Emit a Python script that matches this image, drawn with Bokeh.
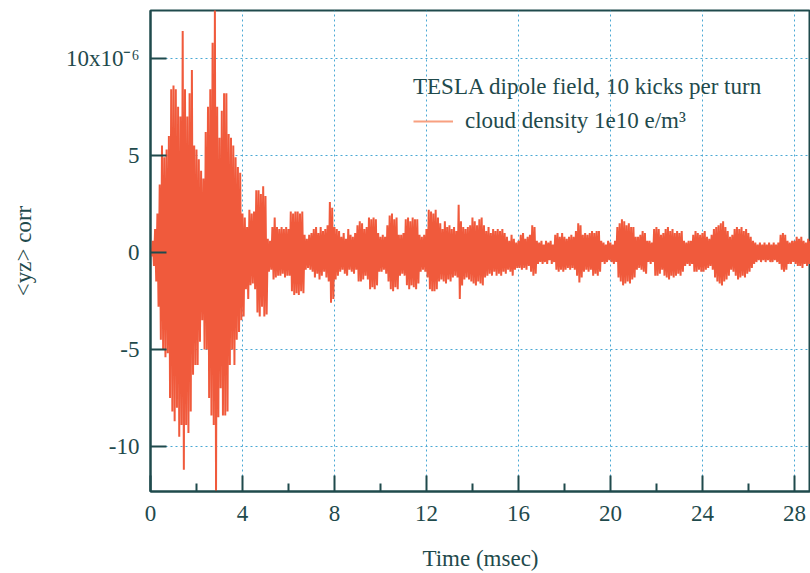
import numpy as np
from bokeh.plotting import figure
from bokeh.models import FixedTicker, Legend, LegendItem, Range1d
from bokeh.embed import file_html
from bokeh.resources import INLINE

# Envelope of the <yz> correlation trace (units of 1e-6), one peak/trough pair per 0.1 msec
T_STEP = 0.1
UP = [
    0.2, 0.6, 1.2, 2.0, 3.5, 5.5, 4.9, 5.3, 6.0, 8.4,
    8.6, 8.4, 7.5, 7.0, 11.4, 8.4, 7.0, 8.2, 9.4, 5.5,
    5.3, 4.8, 4.2, 3.8, 6.2, 7.5, 8.4, 10.8, 12.5, 7.5,
    5.9, 7.3, 8.2, 8.2, 6.1, 5.9, 5.5, 4.9, 4.4, 4.1,
    2.0, 1.8, 1.3, 2.2, 2.0, 2.1, 3.2, 3.2, 3.0, 3.4,
    2.9, 0.7, 0.6, 1.3, 1.8, 1.3, 1.2, 1.3, 1.2, 1.3,
    1.2, 2.1, 2.0, 2.1, 2.1, 2.0, 2.1, 0.9, 0.7, 0.9,
    1.0, 1.2, 1.3, 1.0, 1.3, 1.1, 1.2, 1.4, 2.6, 2.3,
    1.3, 1.2, 1.1, 0.8, 1.0, 0.7, 1.2, 0.9, 0.8, 1.0,
    1.4, 1.6, 1.5, 1.2, 1.3, 1.8, 1.7, 1.8, 1.7, 1.0,
    0.8, 0.9, 0.8, 1.4, 1.9, 2.0, 1.7, 1.8, 0.9, 0.9,
    1.0, 1.7, 1.8, 1.6, 1.8, 1.7, 1.7, 0.9, 0.8, 0.9,
    1.2, 2.2, 2.1, 2.0, 2.2, 1.8, 1.5, 1.2, 1.6, 1.3,
    1.4, 1.2, 1.3, 1.1, 2.45, 1.6, 1.3, 1.2, 1.3, 1.4,
    1.8, 1.6, 1.4, 1.7, 1.8, 1.4, 1.1, 1.3, 1.0, 1.2,
    1.1, 1.2, 1.1, 1.2, 1.0, 0.8, 0.6, 0.9, 0.7, 0.5,
    0.6, 0.9, 1.0, 0.7, 0.8, 0.9, 1.4, 1.3, 0.6, 0.5,
    0.6, 0.4, 0.6, 0.5, 0.6, 0.4, 0.9, 1.0, 0.8, 1.0,
    0.8, 0.7, 0.8, 0.9, 0.8, 1.1, 1.5, 1.4, 0.9, 1.0,
    0.9, 1.0, 1.1, 1.0, 1.1, 1.1, 0.6, 0.5, 0.4, 0.6,
    0.5, 0.4, 0.6, 1.3, 1.5, 1.7, 1.6, 1.4, 1.5, 1.3,
    1.3, 0.8, 0.8, 0.9, 1.1, 1.0, 0.6, 0.6, 0.5, 1.2,
    1.3, 1.2, 0.9, 1.0, 1.2, 1.3, 1.1, 1.2, 1.0, 1.1,
    1.0, 1.1, 0.6, 0.5, 0.6, 0.6, 0.9, 1.1, 1.0, 0.9,
    1.0, 1.1, 0.8, 0.7, 0.9, 1.2, 1.3, 1.4, 1.5, 1.6,
    1.3, 1.1, 0.8, 0.9, 1.2, 1.3, 1.2, 1.3, 1.1, 1.2,
    1.0, 0.8, 0.6, 0.5, 0.4, 0.5, 0.4, 0.5, 0.4, 0.5,
    0.4, 0.5, 0.4, 0.5, 0.9, 1.0, 0.9, 0.6, 0.5, 0.6,
    0.6, 0.8, 0.7, 0.8, 0.6, 0.5, 0.7, 0.6,
]
LO = [
    -0.2, -0.7, -1.5, -2.8, -4.5, -5.0, -5.4, -5.2, -7.5, -8.2,
    -8.7, -8.0, -9.5, -8.9, -11.2, -8.9, -9.3, -8.2, -6.3, -5.8,
    -5.8, -4.6, -3.5, -5.0, -5.0, -7.5, -8.4, -8.9, -12.3, -8.5,
    -7.0, -8.4, -8.4, -8.2, -5.8, -5.0, -5.8, -4.5, -4.1, -3.5,
    -3.3, -1.9, -2.4, -1.7, -1.6, -1.9, -3.1, -3.3, -2.8, -3.3,
    -3.2, -1.0, -0.9, -1.4, -1.3, -1.2, -1.2, -1.1, -1.3, -1.2,
    -1.2, -2.0, -2.2, -2.1, -2.2, -2.0, -2.1, -0.9, -0.8, -0.9,
    -1.0, -1.3, -1.1, -1.4, -1.2, -1.0, -1.3, -1.5, -2.6, -2.4,
    -1.4, -1.2, -1.0, -0.9, -1.1, -1.2, -0.9, -1.0, -1.1, -0.9,
    -1.5, -1.5, -1.4, -1.2, -1.4, -1.9, -1.8, -1.9, -1.7, -1.0,
    -1.0, -0.9, -1.1, -1.5, -1.9, -2.0, -1.8, -1.9, -1.2, -1.1,
    -1.2, -1.7, -1.9, -1.7, -1.8, -1.9, -1.6, -1.0, -0.9, -1.0,
    -1.3, -1.9, -2.0, -2.0, -1.9, -1.5, -1.4, -1.5, -1.6, -1.4,
    -1.5, -1.3, -1.2, -1.3, -2.4, -1.7, -1.4, -1.3, -1.4, -1.5,
    -1.6, -1.7, -1.5, -1.6, -1.7, -1.3, -1.2, -1.1, -1.2, -1.0,
    -1.2, -1.1, -1.2, -1.0, -1.1, -0.9, -1.0, -1.2, -0.9, -0.8,
    -0.8, -0.9, -0.8, -0.9, -0.7, -1.0, -1.2, -1.1, -0.6, -0.5,
    -0.6, -0.5, -0.6, -0.4, -0.6, -0.5, -0.9, -1.0, -0.9, -1.0,
    -0.9, -0.8, -0.9, -0.8, -0.9, -1.2, -1.55, -1.3, -1.0, -0.9,
    -1.0, -0.9, -1.2, -1.1, -1.2, -1.0, -0.5, -0.6, -0.5, -0.4,
    -0.5, -0.6, -0.5, -1.3, -1.5, -1.7, -1.6, -1.5, -1.6, -1.4,
    -1.3, -0.9, -0.8, -0.9, -1.0, -1.1, -0.5, -0.6, -0.5, -1.2,
    -1.2, -1.1, -0.9, -1.2, -1.3, -1.4, -1.2, -1.3, -1.2, -1.1,
    -1.2, -1.0, -0.7, -0.6, -0.7, -0.6, -1.0, -1.0, -0.9, -1.0,
    -1.0, -0.9, -0.8, -0.7, -0.9, -1.3, -1.5, -1.6, -1.7, -1.5,
    -1.4, -1.2, -0.9, -1.0, -1.2, -1.4, -1.3, -1.2, -1.3, -1.1,
    -1.0, -0.8, -0.6, -0.5, -0.4, -0.5, -0.4, -0.5, -0.4, -0.5,
    -0.5, -0.4, -0.5, -0.6, -0.9, -1.0, -0.9, -0.6, -0.6, -0.5,
    -0.6, -0.7, -0.7, -0.8, -0.6, -0.7, -0.6, -0.7,
]

X_TICKS = [0, 4, 8, 12, 16, 20, 24, 28]
X_MINOR = [2, 6, 10, 14, 18, 22, 26]
Y_TICKS = [-10, -5, 0, 5, 10]
Y_LABELS = {-10: "-10", -5: "-5", 0: "0", 5: "5", 10: "10x10\u207b\u2076"}

TITLE = "TESLA dipole field, 10 kicks per turn"
SERIES = "cloud density 1e10 e/m\u00b3"

# zig-zag trace through peaks and troughs
t = np.arange(len(UP)) * T_STEP
xs = np.empty(2 * len(UP))
ys = np.empty(2 * len(UP))
xs[0::2] = t
xs[1::2] = t + T_STEP / 2
ys[0::2] = UP
ys[1::2] = LO

TEAL = "#1f4a4c"
FONT = "Liberation Serif"
FS = "23px"

p = figure(width=810, height=573, x_range=Range1d(0, 28.7), y_range=Range1d(-12.32, 12.46),
           output_backend="svg", toolbar_location=None, title=None,
           min_border_left=150, min_border_right=0, min_border_top=10, min_border_bottom=80,
           background_fill_color="white", border_fill_color="white")

p.outline_line_color = TEAL
p.outline_line_width = 2

p.line(xs, ys, line_color="#f05a3c", line_width=2.0)

dummy = p.line(x=[np.nan], y=[np.nan], line_color="#f8a080", line_width=2)

for ax in (p.xaxis[0], p.yaxis[0]):
    ax.axis_line_color = TEAL
    ax.axis_line_width = 2
    ax.major_tick_line_color = TEAL
    ax.major_tick_line_width = 2
    ax.minor_tick_line_color = TEAL
    ax.minor_tick_line_width = 2
    ax.major_tick_in = 16
    ax.major_tick_out = 0
    ax.major_label_text_font = FONT
    ax.major_label_text_font_size = FS
    ax.major_label_text_color = TEAL
    ax.axis_label_text_font = FONT
    ax.axis_label_text_font_size = FS
    ax.axis_label_text_font_style = "normal"
    ax.axis_label_text_color = TEAL

p.xaxis.ticker = FixedTicker(ticks=X_TICKS, minor_ticks=X_MINOR)
p.xaxis.minor_tick_in = 8
p.xaxis.minor_tick_out = 0
p.xaxis.major_label_standoff = 14
p.xaxis.axis_label = "Time (msec)"
p.xaxis.axis_label_standoff = 22

p.yaxis.ticker = FixedTicker(ticks=Y_TICKS, minor_ticks=[])
p.yaxis.minor_tick_in = 0
p.yaxis.minor_tick_out = 0
p.yaxis.major_label_overrides = Y_LABELS
p.yaxis.major_label_standoff = 11
p.yaxis.axis_label = "<yz> corr"
p.yaxis.axis_label_standoff = 27

for g in (p.xgrid[0], p.ygrid[0]):
    g.grid_line_color = "#4aa8d4"
    g.grid_line_dash = "2 3"
    g.grid_line_width = 1

legend = Legend(items=[LegendItem(label=SERIES, renderers=[dummy])], title=TITLE,
                location=(263, 357), background_fill_alpha=0, border_line_alpha=0,
                padding=0, margin=0, spacing=0, title_standoff=8,
                glyph_width=40, glyph_height=22, label_standoff=12,
                title_text_font=FONT, title_text_font_size=FS, title_text_font_style="normal",
                title_text_color=TEAL, label_text_font=FONT, label_text_font_size=FS,
                label_text_color=TEAL)
p.add_layout(legend)

open("out.html", "w").write(file_html(p, INLINE))
